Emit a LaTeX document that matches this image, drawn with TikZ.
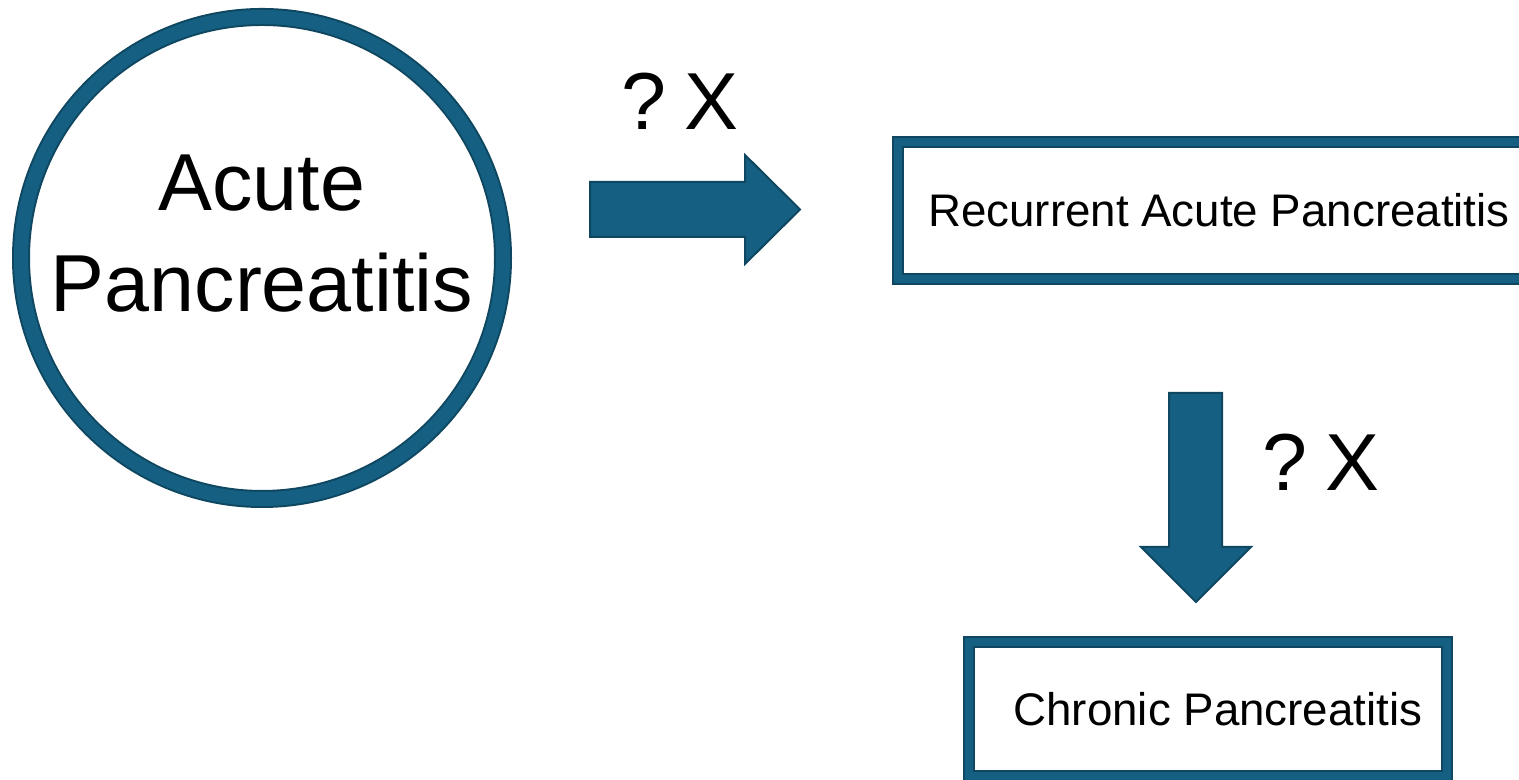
\documentclass[tikz,border=0pt]{standalone}
\usepackage{fontspec}
\setmainfont{Liberation Sans}
\definecolor{apblue}{HTML}{156082}
\definecolor{apdark}{HTML}{0F4761}
\tikzset{
  ring/.style={circle, draw=apdark, line width=0.04cm, double=apblue,
    double distance=0.28cm, inner sep=0pt, minimum size=9.64cm},
  stagebox/.style={rectangle, draw=apdark, line width=0.04cm, double=apblue,
    double distance=0.15cm, inner sep=0pt},
  blockarrow/.style={fill=apblue, draw=apdark, line width=0.04cm, line join=miter},
  qlabel/.style={anchor=base, inner sep=0pt, font=\fontsize{46}{55}\selectfont}
}
\begin{document}
\begin{tikzpicture}
  \useasboundingbox (0,0) rectangle (30.38,15.6);
  \clip (0,0) rectangle (30.38,15.6);

  \node[ring, align=center, text depth=1cm, font=\fontsize{46}{57.5}\selectfont] (acute)
       at (5.24,10.44) {Acute\\Pancreatitis};

  \node[stagebox, minimum width=12.84cm, minimum height=2.74cm,
        font=\fontsize{26}{31}\selectfont] (recurrent)
       at (24.38,11.39) {Recurrent Acute Pancreatitis};
  \node[stagebox, minimum width=9.56cm, minimum height=2.68cm,
        font=\fontsize{26}{31}\selectfont] (chronic)
       at (24.16,1.42) {\hspace*{0.4cm}Chronic Pancreatitis};

  % acute -> recurrent
  \coordinate (rtail) at (11.8,11.41);
  \draw[blockarrow] (rtail) ++(0,0.55) -- ++(3.1,0) -- ++(0,0.54) -- ++(1.1,-1.09)
       -- ++(-1.1,-1.09) -- ++(0,0.54) -- ++(-3.1,0) -- cycle;
  \node[qlabel] (rq) at (13.6,13.0) {?\hspace{0.22em}X};

  % recurrent -> chronic
  \coordinate (dtail) at (23.91,7.74);
  \draw[blockarrow] (dtail) ++(-0.53,0) -- ++(1.06,0) -- ++(0,-3.08) -- ++(0.58,0)
       -- ++(-1.1,-1.1) -- ++(-1.1,1.1) -- ++(0.56,0) -- cycle;
  \node[qlabel] (dq) at (26.42,5.78) {?\hspace{0.22em}X};
\end{tikzpicture}
\end{document}
